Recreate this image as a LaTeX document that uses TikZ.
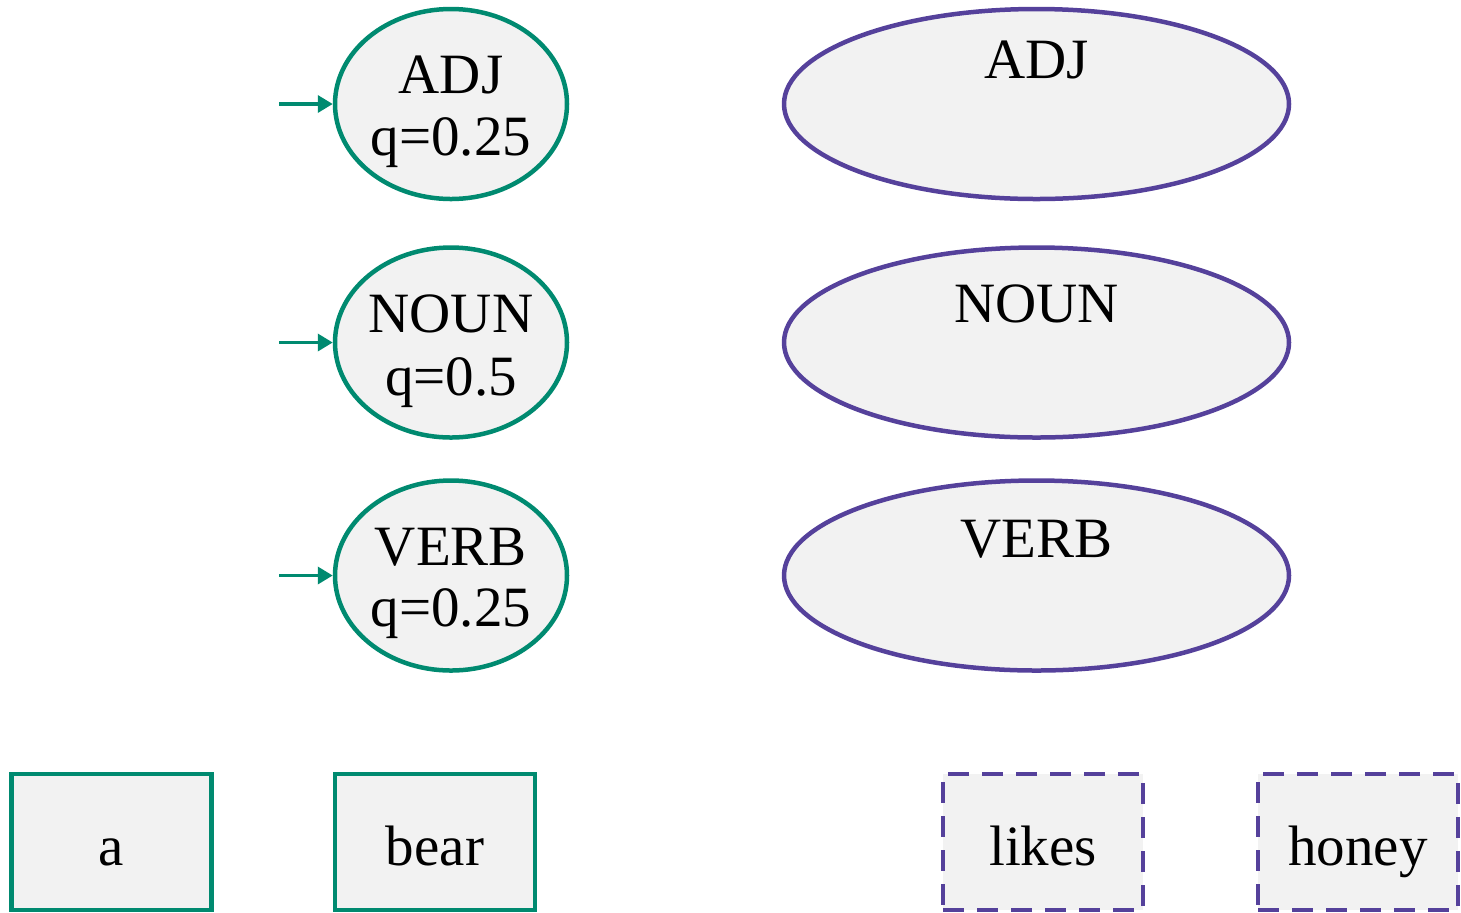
\documentclass[tikz,border=0pt]{standalone}
\usepackage{fontspec}
\setmainfont{Liberation Serif}
\usetikzlibrary{shapes.geometric,arrows.meta}
\definecolor{statgreen}{RGB}{0,138,112}
\definecolor{statpurple}{RGB}{85,65,155}
\definecolor{cellfill}{RGB}{242,242,242}
\begin{document}
\begin{tikzpicture}[x=0.5pt,y=-0.5pt,
  lbl/.style={inner sep=0pt,anchor=base,font=\fontsize{28.5}{34}\selectfont},
  initstate/.style={ellipse,draw=statgreen,fill=cellfill,line width=2.25pt,
    minimum width=116pt,minimum height=95pt,inner sep=0pt},
  nextstate/.style={ellipse,draw=statpurple,fill=cellfill,line width=2.25pt,
    minimum width=252.5pt,minimum height=95pt,inner sep=0pt},
  seenword/.style={rectangle,draw=statgreen,fill=cellfill,line width=2.25pt,
    minimum width=100pt,minimum height=68pt,inner sep=0pt},
  nextword/.style={rectangle,draw=statpurple,fill=cellfill,line width=2.25pt,
    dash pattern=on 10.5pt off 6.5pt,minimum width=100pt,minimum height=68pt,inner sep=0pt},
  startarrow/.style={draw=statgreen,line width=1.75pt,-{Triangle[length=7.5pt,width=8.5pt]}}
]
\useasboundingbox (0,0) rectangle (1461,912);

% initial states with their start probabilities
\node[initstate] (adjA) at (451,104) {};
\node[initstate] (nounA) at (451,342.5) {};
\node[initstate] (verbA) at (451,575.5) {};
\node[lbl] (adjAt) at (451,93) {ADJ};
\node[lbl] (adjAq) at (451,155) {q=0.25};
\node[lbl] (nounAt) at (451,332) {NOUN};
\node[lbl] (nounAq) at (451,395) {q=0.5};
\node[lbl] (verbAt) at (451,565) {VERB};
\node[lbl] (verbAq) at (451,626) {q=0.25};

% start arrows
\coordinate (s1) at (279,104);
\coordinate (s2) at (279,342.5);
\coordinate (s3) at (279,575.5);
\draw[startarrow] (s1) -- (adjA.west);
\draw[startarrow] (s2) -- (nounA.west);
\draw[startarrow] (s3) -- (verbA.west);

% states of the following step
\node[nextstate] (adjB) at (1036.5,104) {};
\node[nextstate] (nounB) at (1036.5,342.5) {};
\node[nextstate] (verbB) at (1036.5,575.5) {};
\node[lbl] (adjBt) at (1036.5,78) {ADJ};
\node[lbl] (nounBt) at (1036.5,322) {NOUN};
\node[lbl] (verbBt) at (1036.5,557) {VERB};

% words of the sentence
\node[seenword] (wa) at (111.5,842) {};
\node[seenword] (wbear) at (435,842) {};
\node[nextword] (wlikes) at (1043,842) {};
\node[nextword] (whoney) at (1358,842) {};
\node[lbl] (wat) at (111.5,865) {a};
\node[lbl] (wbeart) at (435,865) {bear};
\node[lbl] (wlikest) at (1043,865) {likes};
\node[lbl] (whoneyt) at (1358,865) {honey};
\end{tikzpicture}
\end{document}
